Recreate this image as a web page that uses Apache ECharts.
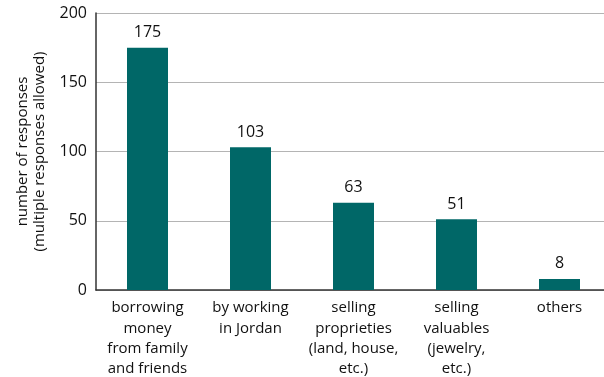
<!DOCTYPE html>
<html>
<head>
<meta charset="utf-8">
<script src="https://cdn.jsdelivr.net/npm/echarts@6/dist/echarts.min.js"></script>
<style>
  html, body { margin: 0; padding: 0; background: #fff; }
  #chart { width: 604px; height: 377px; }
</style>
</head>
<body>
<div id="chart"></div>
<script>
// Ways of covering expenses (multiple responses allowed)
const categories = [
  'borrowing\nmoney\nfrom family\nand friends',
  'by working\nin Jordan',
  'selling\nproprieties\n(land, house,\netc.)',
  'selling\nvaluables\n(jewelry,\netc.)',
  'others'
];
const responses = [175, 103, 63, 51, 8];
const yTicks = { min: 0, max: 200, interval: 50 };

const FONT = '"Open Sans", "Noto Sans", sans-serif';
const chart = echarts.init(document.getElementById('chart'), null, { renderer: 'canvas' });

chart.setOption({
  animation: false,
  grid: {
    left: 96, top: 13, width: 515, bottom: 87,
    containLabel: false,
    outerBoundsMode: 'none'
  },
  xAxis: {
    type: 'category',
    data: categories,
    boundaryGap: true,
    axisLine: { lineStyle: { color: '#333', width: 1.5 } },
    axisTick: { show: false },
    axisLabel: {
      interval: 0,
      margin: 8,
      color: '#111',
      fontFamily: FONT,
      fontSize: 15,
      lineHeight: 20.3,
      align: 'center',
      verticalAlign: 'top'
    }
  },
  yAxis: {
    type: 'value',
    min: yTicks.min,
    max: yTicks.max,
    interval: yTicks.interval,
    name: 'number of responses\n(multiple responses allowed)',
    nameLocation: 'middle',
    nameGap: 44,
    nameRotate: 90,
    nameTextStyle: { color: '#111', fontFamily: FONT, fontSize: 15, lineHeight: 17 },
    axisLine: { show: true, lineStyle: { color: '#333', width: 1.5 } },
    axisTick: { show: false },
    axisLabel: { color: '#111', fontFamily: FONT, fontSize: 16, margin: 9 },
    splitLine: { lineStyle: { color: '#b4b4b4', width: 1 } }
  },
  series: [{
    type: 'bar',
    data: responses,
    barWidth: 41,
    itemStyle: { color: '#006767' },
    label: {
      show: true,
      position: 'top',
      distance: 7,
      color: '#111',
      fontFamily: FONT,
      fontSize: 16
    }
  }]
});
</script>
</body>
</html>
